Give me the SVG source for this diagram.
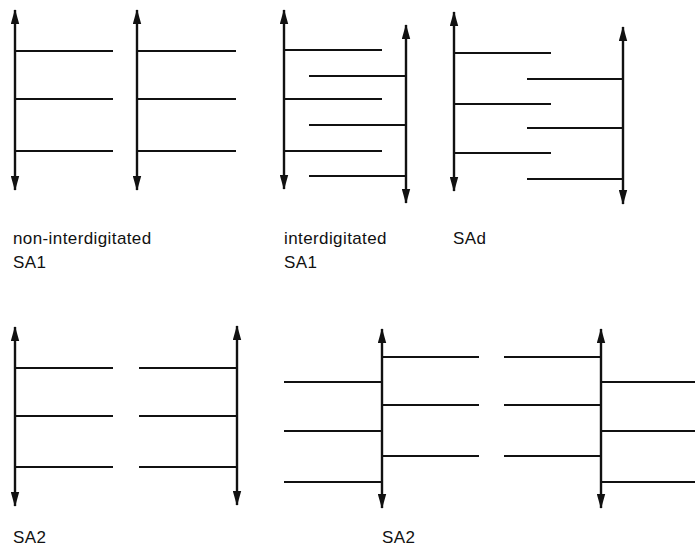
<svg xmlns="http://www.w3.org/2000/svg" width="695" height="548" viewBox="0 0 695 548">
  <style>
    .axis { stroke: #111; stroke-width: 2.4; fill: none; marker-start: url(#tip); marker-end: url(#tip); }
    .chain { stroke: #111; stroke-width: 2.2; fill: none; }
    .label { font-family: "Liberation Sans", Arial, sans-serif; font-size: 17px; letter-spacing: 0.4px; fill: #111; }
  </style>
  <defs>
    <marker id="tip" viewBox="0 -4.5 15 9" refX="14" refY="0" markerWidth="15" markerHeight="9" markerUnits="userSpaceOnUse" orient="auto-start-reverse">
      <path d="M0,-4.2 L15,0 L0,4.2 Z" fill="#111"/>
    </marker>
  </defs>

  <!-- non-interdigitated SA1 -->
  <g id="sa1-non-interdigitated">
    <path class="axis" d="M15,10 V190"/>
    <path class="chain" d="M15,51 H113 M15,99 H113 M15,151 H113"/>
    <path class="axis" d="M137,10 V190"/>
    <path class="chain" d="M137,51 H236 M137,99 H236 M137,151 H236"/>
    <text class="label" x="13" y="244">non-interdigitated</text>
    <text class="label" x="13" y="268">SA1</text>
  </g>

  <!-- interdigitated SA1 -->
  <g id="sa1-interdigitated">
    <path class="axis" d="M284,10 V189"/>
    <path class="chain" d="M284,50 H382 M284,99 H382 M284,151 H382"/>
    <path class="axis" d="M406,25 V203"/>
    <path class="chain" d="M309,76 H406 M309,125 H406 M309,176 H406"/>
    <text class="label" x="284" y="244">interdigitated</text>
    <text class="label" x="284" y="268">SA1</text>
  </g>

  <!-- SAd -->
  <g id="sad">
    <path class="axis" d="M454,12 V191"/>
    <path class="chain" d="M454,53 H551 M454,104 H551 M454,153 H551"/>
    <path class="axis" d="M623,27 V204"/>
    <path class="chain" d="M527,79 H623 M527,128 H623 M527,179 H623"/>
    <text class="label" x="453" y="244">SAd</text>
  </g>

  <!-- SA2, facing pair -->
  <g id="sa2-pair">
    <path class="axis" d="M15,327 V506"/>
    <path class="chain" d="M15,368 H113 M15,416 H113 M15,467 H113"/>
    <path class="axis" d="M237,326 V505"/>
    <path class="chain" d="M139,368 H237 M139,416 H237 M139,467 H237"/>
    <text class="label" x="13" y="543">SA2</text>
  </g>

  <!-- SA2, extended pair -->
  <g id="sa2-extended">
    <path class="axis" d="M382,329 V508"/>
    <path class="chain" d="M382,357 H479 M382,405 H479 M382,456 H479"/>
    <path class="chain" d="M284,382 H382 M284,431 H382 M284,482 H382"/>
    <path class="axis" d="M601,329 V508"/>
    <path class="chain" d="M504,357 H601 M504,405 H601 M504,456 H601"/>
    <path class="chain" d="M601,382 H695 M601,431 H695 M601,482 H695"/>
    <text class="label" x="382" y="543">SA2</text>
  </g>
</svg>
